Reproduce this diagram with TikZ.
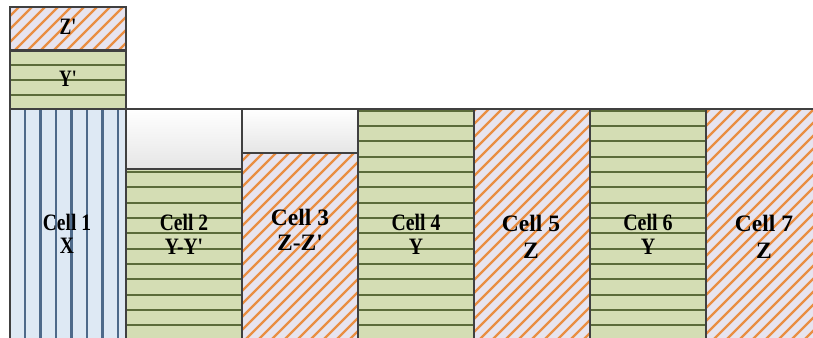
\documentclass[tikz,border=0pt]{standalone}
\usepackage{fontspec}
\setmainfont{Liberation Serif}[Ligatures=TeXOff]
\usepackage{graphicx}
\definecolor{bordc}{HTML}{404040}
\definecolor{gfillc}{HTML}{D4DDB4}
\definecolor{glinec}{HTML}{5B6B3A}
\definecolor{bfillc}{HTML}{DEE9F4}
\definecolor{blinec}{HTML}{4E6A8A}
\definecolor{ofillc}{HTML}{E7E4EF}
\definecolor{olinec}{HTML}{E98E43}
\tikzset{
  bord/.style={draw=bordc, line width=2.9pt},
  gline/.style={draw=glinec, line width=2.2pt},
  bline/.style={draw=blinec, line width=2.3pt},
  oline/.style={draw=olinec, line width=2.2pt},
  lab/.style={anchor=base, inner sep=0pt, font=\fontsize{23.5}{23.5}\selectfont\bfseries, text=black}
}
\newcommand\greencell[4]{%
  \begin{scope}
    \clip (#1,#2) rectangle (#3,#4);
    \fill[gfillc] (#1,#2) rectangle (#3,#4);
    \foreach \k in {-6,...,16} \draw[gline] (#1,{126+15.33*\k}) -- (#3,{126+15.33*\k});
  \end{scope}}
\newcommand\orangecell[4]{%
  \begin{scope}
    \clip (#1,#2) rectangle (#3,#4);
    \fill[ofillc] (#1,#2) rectangle (#3,#4);
    \foreach \c in {0,13,...,1300} \draw[oline] (\c,0) -- (\c-400,400);
  \end{scope}}
\newcommand\whitecell[4]{%
  \shade[top color=white, bottom color=black!10] (#1,#2) rectangle (#3,#4);}
\begin{document}
\begin{tikzpicture}[x=1pt,y=-1pt]
\useasboundingbox (0,0) rectangle (813,337);
\clip (0,0) rectangle (813,337);
% fills and hatching
\orangecell{10}{7}{126}{50.5}
\greencell{10}{50.5}{126}{109}
\begin{scope}
  \clip (10,109) rectangle (126,345);
  \fill[bfillc] (10,109) rectangle (126,345);
  \foreach \k in {0,...,6} \draw[bline] ({25+15.5*\k},109) -- ({25+15.5*\k},345);
\end{scope}
\whitecell{126}{109}{242}{169}
\greencell{126}{169}{242}{345}
\whitecell{242}{109}{358}{153}
\orangecell{242}{153}{358}{345}
\greencell{358}{109}{474}{345}
\orangecell{474}{109}{590}{345}
\greencell{590}{109}{706}{345}
\orangecell{706}{109}{822}{345}
% borders
\draw[bord] (10,7) rectangle (126,50.5);
\draw[bord] (10,50.5) rectangle (126,109);
\draw[bord] (10,109) rectangle (126,345);
\draw[bord] (126,109) rectangle (242,169);
\draw[bord] (126,169) rectangle (242,345);
\draw[bord] (242,109) rectangle (358,153);
\draw[bord] (242,153) rectangle (358,345);
\draw[bord] (358,109) rectangle (474,345);
\draw[bord] (474,109) rectangle (590,345);
\draw[bord] (590,109) rectangle (706,345);
\draw[bord] (706,109) rectangle (822,345);
% labels
\node[lab] (zp) at (68,35) {\scalebox{0.75}[1]{Z'}};
\node[lab] (yp) at (68,86) {\scalebox{0.75}[1]{Y'}};
\node[lab] (c1a) at (67,230) {\scalebox{0.83}[1]{Cell 1}};
\node[lab] (c1b) at (67,253) {\scalebox{0.83}[1]{X}};
\node[lab] (c2a) at (184,230.5) {\scalebox{0.83}[1]{Cell 2}};
\node[lab] (c2b) at (184,254) {\scalebox{0.83}[1]{Y-Y'}};
\node[lab] (c3a) at (300,225) {Cell 3};
\node[lab] (c3b) at (300,250) {Z-Z'};
\node[lab] (c4a) at (416,230) {\scalebox{0.84}[1]{Cell 4}};
\node[lab] (c4b) at (416,254) {\scalebox{0.84}[1]{Y}};
\node[lab] (c5a) at (531,231.5) {Cell 5};
\node[lab] (c5b) at (531,258) {Z};
\node[lab] (c6a) at (648,230) {\scalebox{0.85}[1]{Cell 6}};
\node[lab] (c6b) at (648,254) {\scalebox{0.85}[1]{Y}};
\node[lab] (c7a) at (764,231.5) {Cell 7};
\node[lab] (c7b) at (764,258) {Z};
\end{tikzpicture}
\end{document}
